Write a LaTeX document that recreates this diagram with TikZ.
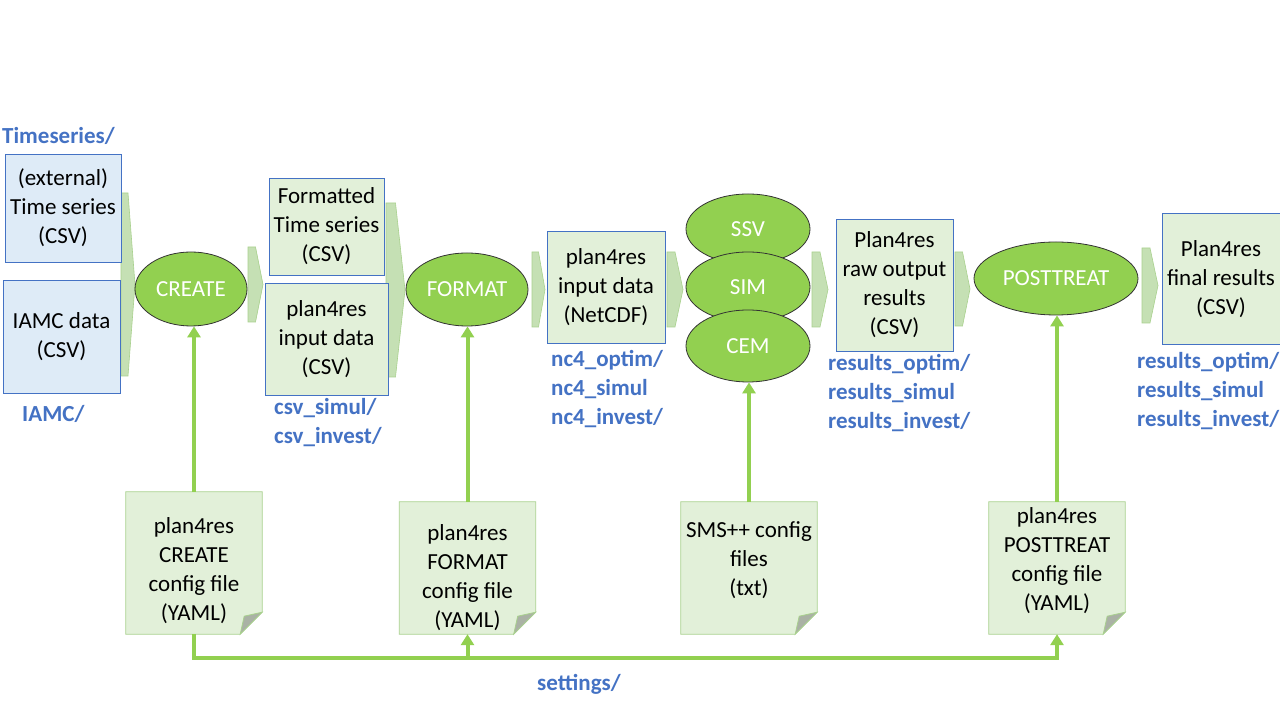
\documentclass[tikz,border=0pt]{standalone}
\usepackage{fontspec}
\setmainfont{Carlito}
\usetikzlibrary{shapes.geometric,arrows.meta,backgrounds}

\definecolor{boxblue}{RGB}{68,114,196}
\definecolor{lblue}{RGB}{222,235,247}
\definecolor{lgreen}{RGB}{226,240,217}
\definecolor{chevgreen}{RGB}{197,224,180}
\definecolor{chevline}{RGB}{169,209,142}
\definecolor{procgreen}{RGB}{146,208,80}
\definecolor{foldgray}{RGB}{170,178,165}

% folded sheet drawn behind a config node
\newcommand\foldnote[1]{%
  \begin{scope}[on background layer]
    \filldraw[fill=lgreen,draw=chevline,line width=0.8pt] (#1.north west) -- (#1.north east) -- ([yshift=22pt]#1.south east) -- ([xshift=-22pt]#1.south east) -- (#1.south west) -- cycle;
    \filldraw[fill=foldgray,draw=chevline,line width=0.8pt] ([yshift=22pt]#1.south east) -- ([xshift=-22pt]#1.south east) -- ([xshift=-18pt,yshift=18pt]#1.south east) -- cycle;
  \end{scope}}
% struts to move the text of a sheet down (top) or up (bot)
\newcommand\toppad[1]{\rule{0pt}{#1}}
\newcommand\botpad[1]{\rule[-#1]{0pt}{#1}}

\begin{document}
\begin{tikzpicture}[x=1pt,y=1pt,>={Triangle[length=11pt,width=13pt]},every node/.append style={align=center,font=\fontsize{23}{29}\selectfont},data/.style={rectangle,draw=boxblue,line width=0.8pt,fill=lgreen,inner sep=1pt},extdata/.style={data,fill=lblue},proc/.style={ellipse,draw=black!80,line width=0.8pt,fill=procgreen,text=white,inner sep=0pt},cfg/.style={rectangle,inner sep=1pt,minimum width=136pt},dir/.style={text=boxblue,font={\fontsize{23}{29}\selectfont\bfseries},align=left,inner sep=0pt},flow/.style={draw=procgreen,line width=4pt}]
    \useasboundingbox (0,0) rectangle (1280,720);
    \begin{scope}[on background layer]
        \fill[white] (0,0) rectangle (1280,720);
    \end{scope}

    % chevrons between the stages
    \foreach \xa/\xb/\yt/\yb in {121/135/527/344, 248/263/473/398, 386/405/517/343, 532/545/468/393, 667/683/468/393, 812/828/468/393, 955/970/468/394, 1142/1158/472/397}
        \filldraw[fill=chevgreen,draw=chevline,line width=0.6pt] (\xa,\yt) -- ({(\xa+\xb)/2},\yt) -- (\xb,{(\yt+\yb)/2}) -- ({(\xa+\xb)/2},\yb) -- (\xa,\yb) -- cycle;

    \node [extdata, minimum width=116pt, minimum height=108pt] (tsext) at (63,512) {(external)\\Time series\\(CSV)};
    \node [extdata, minimum width=117pt, minimum height=113pt] (iamc) at (61.5,383.5) {IAMC data\\(CSV)};
    \node [proc, minimum width=112pt, minimum height=74pt] (create) at (191,431) {CREATE};
    \node [data, minimum width=115pt, minimum height=97pt] (tsfmt) at (326.5,493.5) {Formatted\\Time series\\(CSV)};
    \node [data, minimum width=123pt, minimum height=112pt] (csvin) at (326.5,381) {plan4res\\input data\\(CSV)};
    \node [proc, minimum width=122pt, minimum height=73pt] (format) at (467,430.5) {FORMAT};
    \node [data, minimum width=118pt, minimum height=112pt] (ncin) at (606,433) {plan4res\\input data\\(NetCDF)};
    \node [proc, minimum width=124pt, minimum height=70pt] (ssv) at (748,491) {SSV};
    \node [proc, minimum width=124pt, minimum height=70pt] (sim) at (748,433) {SIM};
    \node [proc, minimum width=124pt, minimum height=72pt] (cem) at (748,374) {CEM};
    \node [data, minimum width=117pt, minimum height=132pt] (rawout) at (894.5,435) {Plan4res\\raw output\\results\\(CSV)};
    \node [proc, minimum width=164pt, minimum height=73pt] (posttreat) at (1056,441.5) {POSTTREAT};
    \node [data, minimum width=118pt, minimum height=131pt] (final) at (1221,441) {Plan4res\\final results\\(CSV)};

    \node [dir, anchor=west] (dirts) at (2,584) {Timeseries/};
    \node [dir, anchor=west] (diriamc) at (22,306) {IAMC/};
    \node [dir, anchor=west] (dircsv) at (274,297) {csv\_simul/\\csv\_invest/};
    \node [dir, anchor=west] (dirnc) at (551,331) {nc4\_optim/\\nc4\_simul\\nc4\_invest/};
    \node [dir, anchor=west] (dirraw) at (828,327) {results\_optim/\\results\_simul\\results\_invest/};
    \node [dir, anchor=west] (dirfinal) at (1137,329) {results\_optim/\\results\_simul\\results\_invest/};
    \node [dir, anchor=west] (dirset) at (537,36) {settings/};

    \node [cfg, minimum height=142pt] (cfgcreate) at (194,157) {\toppad{31pt}plan4res\\CREATE\\config file\\(YAML)};
    \node [cfg, minimum height=132pt] (cfgformat) at (467.5,152) {\toppad{35pt}plan4res\\FORMAT\\config file\\(YAML)};
    \node [cfg, minimum height=132pt] (cfgsms) at (749,152) {SMS++ config\\files\\(txt)\botpad{18pt}};
    \node [cfg, minimum height=132pt] (cfgpost) at (1057,152) {plan4res\\POSTTREAT\\config file\\(YAML)\botpad{18pt}};
    \foldnote{cfgcreate}
    \foldnote{cfgformat}
    \foldnote{cfgsms}
    \foldnote{cfgpost}

    \draw[flow,->] (cfgcreate.north) -- (cfgcreate.north |- create.south);
    \draw[flow,->] (cfgformat.north) -- (cfgformat.north |- format.south);
    \draw[flow,->] (cfgsms.north) -- (cfgsms.north |- cem.south);
    \draw[flow,->] (cfgpost.north) -- (cfgpost.north |- posttreat.south);

    % settings bus
    \coordinate (busy) at (0,62);
    \coordinate (busL) at (cfgcreate.south |- busy);
    \draw[flow,->] (cfgcreate.south) -- (busL) -- (busL -| cfgpost.south) -- (cfgpost.south);
    \draw[flow,->] (busL -| cfgformat.south) -- (cfgformat.south);
\end{tikzpicture}
\end{document}
